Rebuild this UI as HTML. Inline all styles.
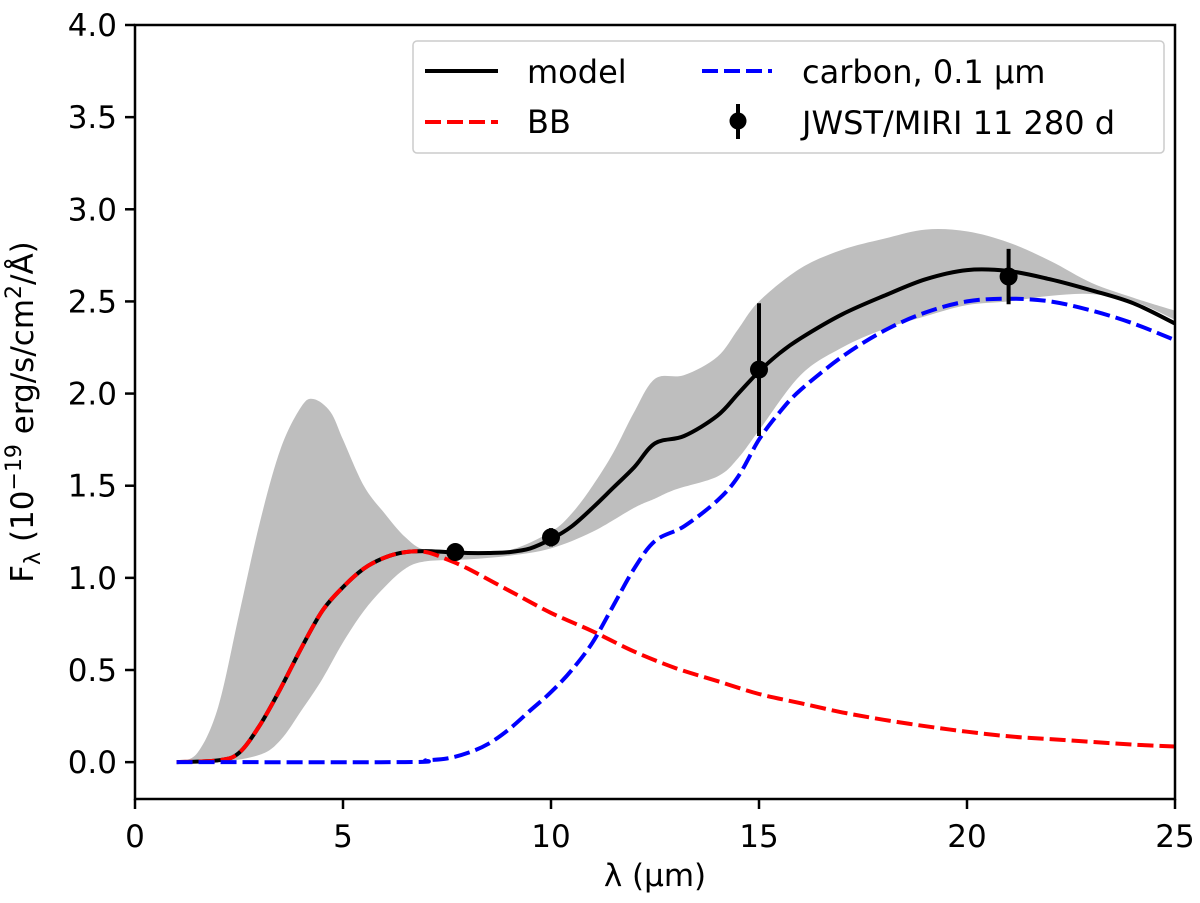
<!DOCTYPE html>
<html><head><meta charset="utf-8"><style>
body{margin:0;background:#fff;}
svg text{font-family:"DejaVu Sans","Liberation Sans",sans-serif;fill:#000;}
</style></head><body>
<svg id="chart" width="1200" height="898" xmlns="http://www.w3.org/2000/svg">
<g id="band"></g>
<g id="lines"></g>
<g id="pts"></g>
<g id="axes"></g>
<text x="33" y="412" font-size="31" text-anchor="middle" transform="rotate(-90 33 412)">F<tspan font-size="22" dy="7">λ</tspan><tspan dy="-7"> (10</tspan><tspan font-size="22" dy="-12">−19</tspan><tspan dy="12"> erg/s/cm</tspan><tspan font-size="22" dy="-12">2</tspan><tspan dy="12">/Å)</tspan></text>
<text x="655" y="886" font-size="31" text-anchor="middle">λ (μm)</text>
<g>
<rect x="413" y="41" width="751" height="112" rx="4" fill="#fff" fill-opacity="0.8" stroke="#ccc" stroke-width="1.5"/>
<line x1="425" y1="71" x2="498" y2="71" stroke="#000" stroke-width="4"/>
<text x="527" y="83" font-size="32">model</text>
<line x1="425" y1="122" x2="498" y2="122" stroke="red" stroke-width="4" stroke-dasharray="16,6"/>
<text x="527" y="133" font-size="32">BB</text>
<line x1="702" y1="71" x2="772" y2="71" stroke="blue" stroke-width="4" stroke-dasharray="16,6"/>
<text x="802" y="83" font-size="32">carbon, 0.1 μm</text>
<line x1="738" y1="104" x2="738" y2="139" stroke="#000" stroke-width="4"/>
<circle cx="738" cy="121" r="8.5" fill="#000"/>
<text x="802" y="134" font-size="32">JWST/MIRI 11 280 d</text>
</g>
</svg>
<script>
const modelX=[1,2,2.5,3,3.5,4,4.5,5,5.5,6,6.5,7,7.5,8,8.5,9,9.5,10,10.5,11,11.5,12,12.5,13.2,14,14.5,15,15.5,16,17,18,19,20,21,22,23,24,25];
const modelY=[0,0.01,0.05,0.2,0.4,0.62,0.82,0.95,1.05,1.11,1.14,1.145,1.14,1.135,1.135,1.14,1.16,1.21,1.28,1.38,1.49,1.6,1.73,1.77,1.88,2.0,2.12,2.22,2.3,2.43,2.53,2.62,2.67,2.665,2.62,2.56,2.49,2.38];
const bbX=[1,2,2.5,3,3.5,4,4.5,5,5.5,6,6.5,7,7.5,8,9,10,11,12,13,14,15,16,17,18,19,20,21,22,23,24,25];
const bbY=[0,0.01,0.05,0.2,0.4,0.62,0.82,0.95,1.05,1.11,1.14,1.14,1.1,1.05,0.93,0.81,0.71,0.6,0.51,0.44,0.37,0.32,0.27,0.23,0.195,0.165,0.14,0.125,0.11,0.095,0.085];
const cX=[1,6.5,7,7.5,8,8.5,9,9.5,10,10.5,11,11.5,12,12.5,13.2,14,14.5,15,15.5,16,17,18,19,20,21,22,23,24,25];
const cY=[0,0,0.01,0.02,0.05,0.1,0.18,0.28,0.38,0.5,0.65,0.85,1.05,1.2,1.28,1.42,1.55,1.75,1.9,2.02,2.2,2.34,2.44,2.5,2.515,2.5,2.45,2.38,2.29];
const upX=[1,1.5,2,2.5,3,3.5,4,4.3,4.7,5,5.5,6,6.5,7,8,9,10,10.5,11,11.5,12,12.5,13.2,14,14.5,15,16,17,18,19,20,21,22,23,24,25];
const upY=[0,0.05,0.3,0.8,1.3,1.7,1.93,1.97,1.9,1.75,1.5,1.35,1.22,1.15,1.14,1.15,1.25,1.35,1.5,1.68,1.9,2.08,2.1,2.2,2.35,2.5,2.68,2.78,2.84,2.89,2.88,2.82,2.72,2.6,2.52,2.45];
const loX=[1,2,3,3.5,4,4.5,5,5.5,6,6.5,7,8,9,10,11,12,12.5,13,14,14.5,15,16,17,18,19,20,21,22,23,24,25];
const loY=[0,0,0.04,0.12,0.28,0.45,0.65,0.82,0.95,1.05,1.09,1.1,1.12,1.16,1.25,1.38,1.43,1.48,1.55,1.65,1.8,2.1,2.25,2.35,2.42,2.48,2.5,2.53,2.54,2.5,2.4];
const ptX=[7.7,10,15,21];
const ptY=[1.14,1.22,2.13,2.635];
const ptErr=[0.02,0.05,0.36,0.15];
const xTicks=[0,5,10,15,20,25];
const yTicks=[0,0.5,1.0,1.5,2.0,2.5,3.0,3.5,4.0];
const X0=135,X1=1175,Y0=799,Y1=25,xmin=0,xmax=25,ymin=-0.2,ymax=4.0;
const sx=v=>X0+(v-xmin)/(xmax-xmin)*(X1-X0);
const sy=v=>Y0-(v-ymin)/(ymax-ymin)*(Y0-Y1);
const NS="http://www.w3.org/2000/svg";
function mk(tag,attrs,parent){const e=document.createElementNS(NS,tag);for(const k in attrs)e.setAttribute(k,attrs[k]);parent.appendChild(e);return e;}
function smooth(xs,ys,move){
 const p=xs.map((x,i)=>[sx(x),sy(ys[i])]);
 let d=(move?'M':'L')+p[0][0].toFixed(1)+','+p[0][1].toFixed(1);
 for(let i=0;i<p.length-1;i++){
  const a=p[Math.max(i-1,0)],b=p[i],c=p[i+1],e=p[Math.min(i+2,p.length-1)];
  const c1=[b[0]+(c[0]-a[0])/6,b[1]+(c[1]-a[1])/6],c2=[c[0]-(e[0]-b[0])/6,c[1]-(e[1]-b[1])/6];
  d+='C'+c1.map(v=>v.toFixed(1)).join(',')+' '+c2.map(v=>v.toFixed(1)).join(',')+' '+c[0].toFixed(1)+','+c[1].toFixed(1);
 }
 return d;
}
const band=document.getElementById('band');
let poly=mk('path',{d:smooth(upX,upY,true)+smooth(loX.slice().reverse(),loY.slice().reverse(),false)+'Z',fill:'#bebebe'},band);


const L=document.getElementById('lines');
let m=mk('path',{d:smooth(modelX,modelY,true),fill:'none',stroke:'#000','stroke-width':4},L);


let b=mk('path',{d:smooth(bbX,bbY,true),fill:'none',stroke:'red','stroke-width':4,'stroke-dasharray':'16,6'},L);


let c=mk('path',{d:smooth(cX,cY,true),fill:'none',stroke:'blue','stroke-width':4,'stroke-dasharray':'16,6'},L);


const P=document.getElementById('pts');
ptX.forEach((x,i)=>{
 const g=mk('g',{},P);
 
 
 mk('line',{x1:sx(x),x2:sx(x),y1:sy(ptY[i]-ptErr[i]),y2:sy(ptY[i]+ptErr[i]),stroke:'#000','stroke-width':4},g);
 mk('circle',{cx:sx(x),cy:sy(ptY[i]),r:9,fill:'#000'},g);
});
const A=document.getElementById('axes');
mk('rect',{x:X0,y:Y1,width:X1-X0,height:Y0-Y1,fill:'none',stroke:'#000','stroke-width':2.5},A);
xTicks.forEach(t=>{
 mk('line',{x1:sx(t),x2:sx(t),y1:Y0,y2:Y0+10,stroke:'#000','stroke-width':2.5},A);
 const tx=mk('text',{x:sx(t),y:Y0+48,'font-size':31,'text-anchor':'middle'},A);
 tx.textContent=t;
 
 
});
yTicks.forEach(t=>{
 mk('line',{x1:X0-10,x2:X0,y1:sy(t),y2:sy(t),stroke:'#000','stroke-width':2.5},A);
 const tx=mk('text',{x:X0-18,y:sy(t)+11,'font-size':31,'text-anchor':'end'},A);
 tx.textContent=t.toFixed(1);
 
 
});
</script>
</body></html>
